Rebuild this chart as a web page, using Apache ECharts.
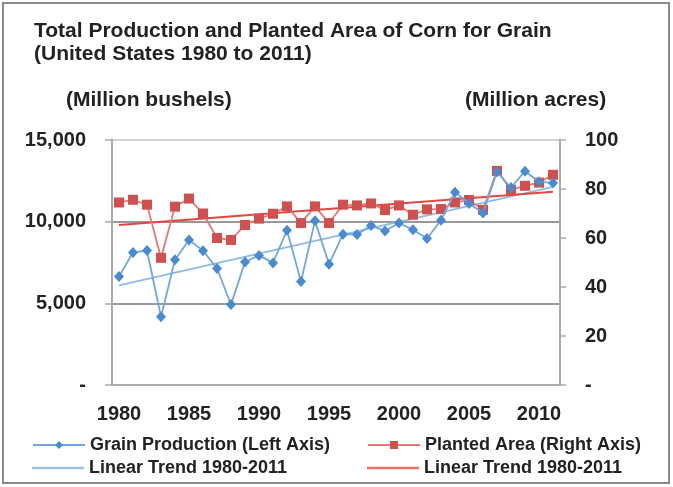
<!DOCTYPE html>
<html><head><meta charset="utf-8">
<script src="https://cdn.jsdelivr.net/npm/echarts@6/dist/echarts.min.js"></script>
<style>html,body{margin:0;padding:0;background:#fff}#c{width:673px;height:487px}</style>
</head><body><div id="c"></div>
<script>
const years = ['1980','1981','1982','1983','1984','1985','1986','1987','1988','1989','1990','1991','1992','1993','1994','1995','1996','1997','1998','1999','2000','2001','2002','2003','2004','2005','2006','2007','2008','2009','2010','2011'];
const production = [6639,8119,8235,4174,7672,8875,8226,7131,4929,7531,7934,7475,9477,6336,10051,7400,9233,9207,9759,9431,9915,9503,8967,10089,11806,11112,10531,13038,12092,13092,12447,12360];
const plantedArea = [74.5,75.6,73.6,51.9,72.8,76.1,70.0,60.0,59.2,65.3,67.9,69.9,72.9,66.1,72.9,66.1,73.6,73.3,74.1,71.4,73.3,69.5,71.7,71.8,74.5,75.5,71.5,87.4,79.7,81.3,82.6,85.8];
// trend endpoints (1980, 2011)
const prodTrendEnds = [6100, 12130];
const areaTrendEnds = [65.3, 78.9];
const leftTicks = {0:'-',5000:'5,000',10000:'10,000',15000:'15,000'};
const rightTicks = {0:'-',20:'20',40:'40',60:'60',80:'80',100:'100'};
const seriesNames = ['Grain Production (Left Axis)','Planted Area (Right Axis)','Linear Trend 1980-2011','Linear Trend 1980-2011 '];

function trend(ends){ return years.map((y,i)=> i===0?ends[0]:(i===years.length-1?ends[1]:null)); }

const FONT = 'Liberation Sans, Arial, sans-serif';
const legendText = {fontFamily:FONT,fontWeight:'bold',fontSize:18,color:'#222'};
function leg(name,left,top,opts){
  return Object.assign({left:left,top:top,padding:0,itemWidth:52,itemHeight:10,data:[name],textStyle:legendText,selectedMode:false},opts||{});
}
const chart = echarts.init(document.getElementById('c'));
chart.setOption({
  animation:false,
  backgroundColor:'#fff',
  textStyle:{fontFamily:FONT},
  title:{text:'Total Production and Planted Area of Corn for Grain\n(United States 1980 to 2011)',left:29,top:15,
    textStyle:{fontFamily:FONT,fontWeight:'bold',fontSize:21,lineHeight:23,color:'#222'}},
  graphic:[
    {type:'rect',shape:{x:3,y:3,width:666,height:480},style:{fill:'none',stroke:'#8a8a8a',lineWidth:2},silent:true},
    {type:'text',x:66,y:100,style:{text:'(Million bushels)',font:'bold 21px '+FONT,fill:'#222',verticalAlign:'middle'}},
    {type:'text',x:465,y:100,style:{text:'(Million acres)',font:'bold 21px '+FONT,fill:'#222',verticalAlign:'middle'}}
  ],
  grid:{left:112,right:113,top:140,bottom:102},
  legend:[
    leg(seriesNames[0],32,436),
    leg(seriesNames[2],32,459,{icon:'rect',itemHeight:2.5}),
    leg(seriesNames[1],367,436),
    leg(seriesNames[3],367,459,{icon:'rect',itemHeight:2.5})
  ],
  xAxis:{type:'category',data:years,boundaryGap:true,
    axisLine:{lineStyle:{color:'#aaa',width:2}},
    axisTick:{interval:0,length:5,lineStyle:{color:'#aaa',width:1.5}},
    axisLabel:{interval:(i)=>i%5===0,margin:19,fontFamily:FONT,fontWeight:'bold',fontSize:20,color:'#222'}},
  yAxis:[
    {type:'value',min:0,max:15000,interval:5000,position:'left',
     axisLine:{show:true,lineStyle:{color:'#aaa',width:2}},
     axisTick:{show:true,length:7,lineStyle:{color:'#aaa',width:1.5}},
     splitLine:{show:true,lineStyle:{color:['#aaa','#777','#777','#c4c4c4'],width:1.5}},
     axisLabel:{margin:26,formatter:v=>leftTicks[v]||'',fontFamily:FONT,fontWeight:'bold',fontSize:20,color:'#222'}},
    {type:'value',min:0,max:100,interval:20,position:'right',
     axisLine:{show:true,lineStyle:{color:'#aaa',width:2}},
     axisTick:{show:true,length:6,lineStyle:{color:'#aaa',width:1.5}},
     splitLine:{show:false},
     axisLabel:{margin:25,formatter:v=>rightTicks[v],fontFamily:FONT,fontWeight:'bold',fontSize:20,color:'#222'}}
  ],
  series:[
    {name:seriesNames[0],type:'line',yAxisIndex:0,data:production,showAllSymbol:true,
     symbol:'diamond',symbolSize:[10,11],lineStyle:{color:'#6fa8dd',width:1.8},itemStyle:{color:'#4a8ad0'},z:4},
    {name:seriesNames[1],type:'line',yAxisIndex:1,data:plantedArea,showAllSymbol:true,
     symbol:'rect',symbolSize:10,lineStyle:{color:'#e07a76',width:1.8},itemStyle:{color:'#d0504d'},z:3},
    {name:seriesNames[2],type:'line',yAxisIndex:0,data:trend(prodTrendEnds),connectNulls:true,
     symbol:'none',lineStyle:{color:'#8cbbe6',width:2},itemStyle:{color:'#9cc4e8'},z:2},
    {name:seriesNames[3],type:'line',yAxisIndex:1,data:trend(areaTrendEnds),connectNulls:true,
     symbol:'none',lineStyle:{color:'#e0483f',width:2},itemStyle:{color:'#e57068'},z:2}
  ]
});
</script></body></html>
